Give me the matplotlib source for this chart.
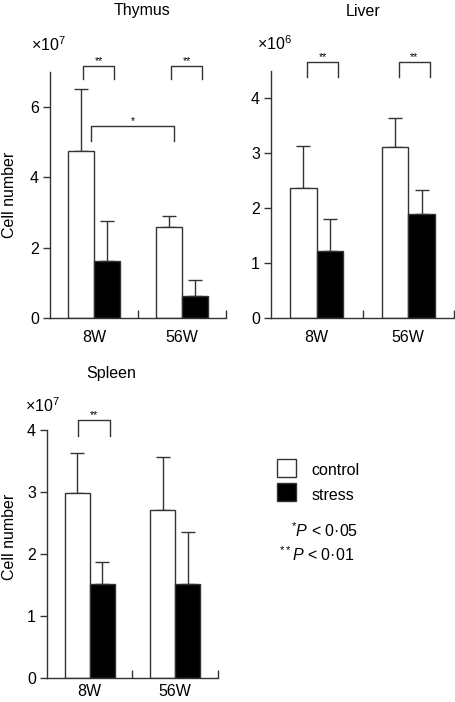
import matplotlib
matplotlib.use("Agg")
import matplotlib.pyplot as plt
from matplotlib.patches import Rectangle

plt.rcParams['font.family'] = ['Liberation Sans', 'DejaVu Sans']
plt.rcParams['font.size'] = 11.5
plt.rcParams['mathtext.fontset'] = 'custom'
plt.rcParams['mathtext.rm'] = 'Liberation Sans'
plt.rcParams['mathtext.it'] = 'Liberation Sans:italic'

# Data (mean and upper error bar end, per group)
groups = ['8W', '56W']
thymus_control = [4.75, 2.58]
thymus_control_err = [6.51, 2.91]
thymus_stress = [1.63, 0.63]
thymus_stress_err = [2.75, 1.09]

liver_control = [2.36, 3.11]
liver_control_err = [3.13, 3.64]
liver_stress = [1.22, 1.90]
liver_stress_err = [1.80, 2.33]

spleen_control = [2.99, 2.71]
spleen_control_err = [3.63, 3.57]
spleen_stress = [1.52, 1.52]
spleen_stress_err = [1.88, 2.36]

EDGE = '#333333'
W = 0.29

fig = plt.figure(figsize=(4.56, 7.02), dpi=100)


def px_axes(left, right, bottom, top):
    # pixel box -> figure fraction
    return fig.add_axes([left / 456, 1 - bottom / 702,
                         (right - left) / 456, (bottom - top) / 702])


def panel(ax, control, c_err, stress, s_err, ymax, yticks, xpad=10):
    xs = [1, 2]
    ax.bar([x - W / 2 for x in xs], control, W, color='white',
           edgecolor=EDGE, linewidth=1, zorder=2)
    ax.bar([x + W / 2 for x in xs], stress, W, color='black',
           edgecolor=EDGE, linewidth=1, zorder=2)
    ax.errorbar([x - W / 2 for x in xs], control,
                yerr=[[0, 0], [e - v for e, v in zip(c_err, control)]],
                fmt='none', ecolor=EDGE, elinewidth=1, capsize=5.3, capthick=1, zorder=1)
    ax.errorbar([x + W / 2 for x in xs], stress,
                yerr=[[0, 0], [e - v for e, v in zip(s_err, stress)]],
                fmt='none', ecolor=EDGE, elinewidth=1, capsize=5.3, capthick=1, zorder=1)
    ax.set_xlim(0.5, 2.5)
    ax.set_ylim(0, ymax)
    ax.set_yticks(yticks)
    ax.set_yticklabels([str(t) for t in yticks])
    ax.set_xticks(xs)
    ax.set_xticklabels(groups)
    ax.set_xticks([1.5, 2.5], minor=True)
    ax.tick_params(axis='x', which='major', length=0, pad=xpad)
    ax.tick_params(axis='x', which='minor', length=6, direction='in', width=1, color=EDGE)
    ax.tick_params(axis='y', length=5, direction='out', width=1, color=EDGE, pad=3)
    for s in ['top', 'right']:
        ax.spines[s].set_visible(False)
    for s in ['left', 'bottom']:
        ax.spines[s].set_color(EDGE)
        ax.spines[s].set_linewidth(1)


def bracket(ax, x0, x1, ytop, ybot, label, size=7.5):
    ax.plot([x0, x0, x1, x1], [ybot, ytop, ytop, ybot], color=EDGE, lw=1,
            clip_on=False)
    ax.text((x0 + x1) / 2, ytop, label, ha='center', va='bottom', fontsize=size)


# Thymus
ax1 = px_axes(50, 226, 318, 72)
panel(ax1, thymus_control, thymus_control_err, thymus_stress, thymus_stress_err,
      7, [0, 2, 4, 6], xpad=9)
for g in [1, 2]:
    bracket(ax1, g - 0.125, g + 0.23, 7.17, 6.8, '**')
bracket(ax1, 1 - 0.035, 2 - 0.09, 5.47, 5.04, '*')
ax1.text(0.523, 1.248, 'Thymus', transform=ax1.transAxes, ha='center', va='center')
ax1.text(-0.108, 1.085, r'$\times$10$^7$', transform=ax1.transAxes, ha='left',
         va='baseline')
ax1.text(-0.23, 0.5, 'Cell number', transform=ax1.transAxes, rotation=90,
         ha='center', va='center')

# Liver
ax2 = px_axes(271, 454, 318, 70.7)
panel(ax2, liver_control, liver_control_err, liver_stress, liver_stress_err,
      4.5, [0, 1, 2, 3, 4], xpad=9)
for g in [1, 2]:
    bracket(ax2, g - 0.105, g + 0.235, 4.65, 4.39, '**')
ax2.text(0.503, 1.241, 'Liver', transform=ax2.transAxes, ha='center', va='center')
ax2.text(-0.078, 1.084, r'$\times$10$^6$', transform=ax2.transAxes, ha='left',
         va='baseline')

# Spleen
ax3 = px_axes(47, 218, 678.3, 430.3)
panel(ax3, spleen_control, spleen_control_err, spleen_stress, spleen_stress_err,
      4, [0, 1, 2, 3, 4], xpad=4)
bracket(ax3, 1 - 0.135, 1 + 0.235, 4.16, 3.91, '**')
ax3.text(0.374, 1.231, 'Spleen', transform=ax3.transAxes, ha='center', va='center')
ax3.text(-0.129, 1.075, r'$\times$10$^7$', transform=ax3.transAxes, ha='left',
         va='baseline')
ax3.text(-0.22, 0.57, 'Cell number', transform=ax3.transAxes, rotation=90,
         ha='center', va='center')

# Legend
fig.add_artist(Rectangle((276.7 / 456, 1 - 477 / 702), 19 / 456, 18 / 702,
                         transform=fig.transFigure, facecolor='white',
                         edgecolor=EDGE, lw=1))
fig.add_artist(Rectangle((276.7 / 456, 1 - 501.3 / 702), 19 / 456, 18.6 / 702,
                         transform=fig.transFigure, facecolor='black',
                         edgecolor=EDGE, lw=1))
fig.text(311.7 / 456, 1 - 470.7 / 702, 'control', ha='left', va='center')
fig.text(311.7 / 456, 1 - 495 / 702, 'stress', ha='left', va='center')
fig.text(358 / 456, 1 - 531 / 702, r'$^{*}$$P$ < 0·05', ha='right', va='center')
fig.text(354 / 456, 1 - 555 / 702, r'$^{**}$$P$ < 0·01', ha='right', va='center')

fig.savefig('out.png', dpi=100)
